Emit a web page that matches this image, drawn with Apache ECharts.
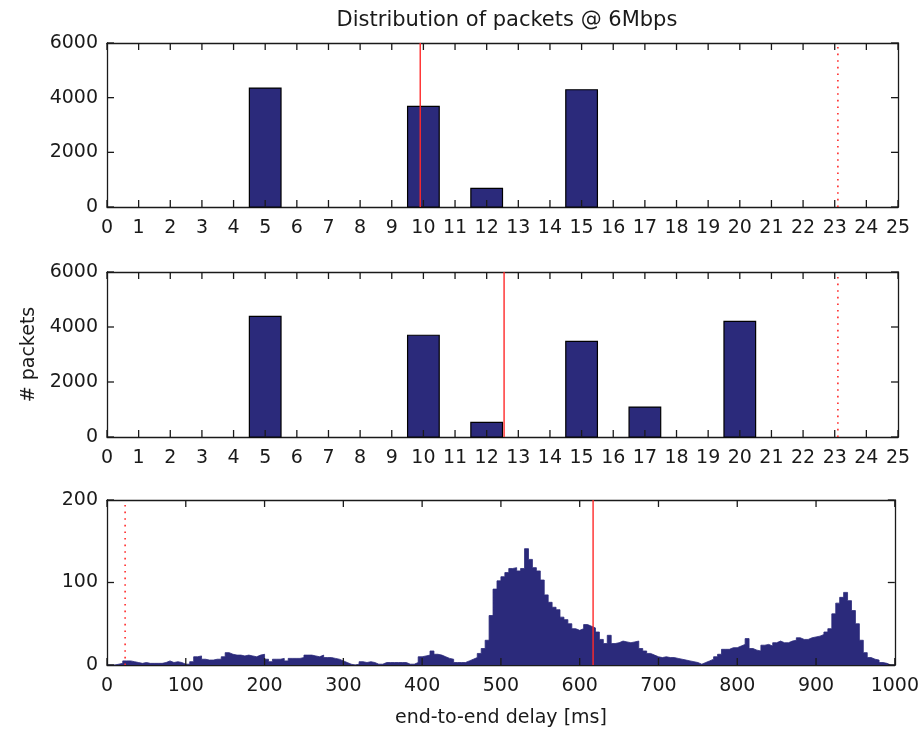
<!DOCTYPE html>
<html>
<head>
<meta charset="utf-8">
<title>Distribution of packets @ 6Mbps</title>
<script src="https://cdn.jsdelivr.net/npm/echarts@6/dist/echarts.min.js"></script>
<style>
  html, body { margin: 0; padding: 0; background: #fff; }
  #chart { width: 922px; height: 733px; }
</style>
</head>
<body>
<div id="chart"></div>
<script>
// ---- data ----
const titleText = 'Distribution of packets @ 6Mbps';
const yName = '# packets';
const xName = 'end-to-end delay [ms]';

// top panel: packets per 1 ms delay bin
const binsTop = [5, 10, 12, 15];
const countsTop = [4350, 3680, 680, 4290];
const meanTop = 9.9;
const limitTop = 23.1;

// middle panel
const binsMid = [5, 10, 12, 15, 17, 20];
const countsMid = [4390, 3700, 535, 3480, 1090, 4205];
const meanMid = 12.55;
const limitMid = 23.1;

// bottom panel: 5 ms bins from 0 to 1000 ms
const binWidth = 5;
const countsBottom = [
  0,0,1,2,5,5,4,3,2,3,2,2,2,2,3,5,3,4,3,1,
  1,4,10,11,7,6,6,7,7,10,15,13,12,12,11,12,11,10,12,13,
  7,4,7,7,8,5,8,8,8,9,12,12,11,10,12,9,9,8,7,5,
  3,1,0,1,4,3,4,3,1,1,3,3,3,3,3,3,1,1,3,10,
  11,12,17,13,12,10,8,7,3,3,3,5,7,9,14,20,30,60,92,102,
  107,112,117,118,114,117,141,128,118,114,103,85,76,70,67,58,55,50,44,42,
  44,49,47,45,40,31,26,36,26,27,29,28,27,28,29,20,17,14,12,10,
  9,10,9,9,8,7,6,5,4,3,1,3,5,7,10,13,19,19,21,21,
  23,25,32,20,18,17,24,25,23,27,29,27,27,29,30,33,31,31,33,34,
  35,37,40,44,62,75,82,88,78,66,50,30,15,9,7,6,3,2,0,0
];
const meanBottom = 617;
const limitBottom = 23;

// axis ranges / ticks
const xTopMax = 25, xTopStep = 1;
const yTopMax = 6000, yTopStep = 2000;
const xBotMax = 1000, xBotStep = 100;
const yBotMax = 200, yBotStep = 100;

// ---- styling ----
const FONT = 'DejaVu Sans';
const INK = '#1a1a1a';
const BAR = '#2b2a7b';
const RED = '#ff2a2a';
const TICK_LEN = 7;
const plain = v => String(v);

const grids = [
  { left: 107, top: 43, width: 791, height: 164 },
  { left: 107, top: 272, width: 791, height: 165 },
  { left: 107, top: 500, width: 792, height: 165 }
];

function axisBase(gridIndex, max, step) {
  return {
    gridIndex, type: 'value', min: 0, max, interval: step,
    axisLine: { show: true, onZero: false, lineStyle: { color: INK, width: 1.3 } },
    axisTick: { show: false },
    splitLine: { show: false }
  };
}

function xAxisPair(gridIndex, max, step, extra) {
  return [
    Object.assign(axisBase(gridIndex, max, step), {
      position: 'bottom',
      axisLabel: { show: true, margin: 12, color: INK, fontSize: 19, fontFamily: FONT, formatter: plain }
    }, extra || {}),
    Object.assign(axisBase(gridIndex, max, step), { position: 'top', axisLabel: { show: false } })
  ];
}

function yAxisPair(gridIndex, max, step, extra) {
  return [
    Object.assign(axisBase(gridIndex, max, step), {
      position: 'left',
      axisLabel: { show: true, margin: 9, color: INK, fontSize: 19, fontFamily: FONT, formatter: plain }
    }, extra || {}),
    Object.assign(axisBase(gridIndex, max, step), { position: 'right', axisLabel: { show: false } })
  ];
}

const xAxes = [
  ...xAxisPair(0, xTopMax, xTopStep),
  ...xAxisPair(1, xTopMax, xTopStep),
  ...xAxisPair(2, xBotMax, xBotStep, {
    name: xName, nameLocation: 'middle', nameGap: 44,
    nameTextStyle: { color: INK, fontSize: 19, fontFamily: FONT }
  })
];
const yAxes = [
  ...yAxisPair(0, yTopMax, yTopStep),
  ...yAxisPair(1, yTopMax, yTopStep, {
    name: yName, nameLocation: 'middle', nameGap: 68, nameRotate: 90,
    nameTextStyle: { color: INK, fontSize: 19, fontFamily: FONT }
  }),
  ...yAxisPair(2, yBotMax, yBotStep)
];

// unit-wide histogram bars centred on each bin
function barSeries(axisIdx, bins, counts) {
  return {
    type: 'custom',
    xAxisIndex: axisIdx, yAxisIndex: axisIdx,
    data: bins.map((b, i) => [b, counts[i]]),
    renderItem: function (params, api) {
      const x = api.value(0), v = api.value(1);
      const p0 = api.coord([x - 0.5, v]);
      const p1 = api.coord([x + 0.5, 0]);
      return {
        type: 'rect',
        shape: { x: p0[0], y: p0[1], width: p1[0] - p0[0], height: p1[1] - p0[1] },
        style: { fill: BAR, stroke: '#000', lineWidth: 1.2 }
      };
    },
    z: 2
  };
}

// MATLAB-style inward ticks on all four sides of a panel
function tickSeries(axisIdx, xMax, xStep, yMax, yStep) {
  const data = [];
  for (let v = 0; v <= xMax; v += xStep) data.push([0, v]);
  for (let v = 0; v <= yMax; v += yStep) data.push([1, v]);
  const tickStyle = { stroke: INK, lineWidth: 1.3 };
  return {
    type: 'custom',
    xAxisIndex: axisIdx, yAxisIndex: axisIdx,
    encode: { x: -1, y: -1 },
    data,
    silent: true,
    renderItem: function (params, api) {
      const kind = api.value(0), v = api.value(1);
      let a, b, lines;
      if (kind === 0) {
        a = api.coord([v, 0]);
        b = api.coord([v, yMax]);
        lines = [
          [a[0], a[1], a[0], a[1] - TICK_LEN],
          [b[0], b[1], b[0], b[1] + TICK_LEN]
        ];
      } else {
        a = api.coord([0, v]);
        b = api.coord([xMax, v]);
        lines = [
          [a[0], a[1], a[0] + TICK_LEN, a[1]],
          [b[0], b[1], b[0] - TICK_LEN, b[1]]
        ];
      }
      return {
        type: 'group',
        children: lines.map(l => ({
          type: 'line',
          shape: { x1: l[0], y1: l[1], x2: l[2], y2: l[3] },
          style: tickStyle
        }))
      };
    },
    z: 6
  };
}

function vLine(axisIdx, x, yMax, dotted) {
  return {
    type: 'line',
    xAxisIndex: axisIdx, yAxisIndex: axisIdx,
    data: [[x, 0], [x, yMax]],
    symbol: 'none', silent: true,
    lineStyle: { color: RED, width: dotted ? 1.6 : 1.4, type: dotted ? [1.6, 5] : 'solid' },
    z: 5
  };
}

const stepData = countsBottom.map((v, i) => [i * binWidth, v]);
stepData.push([countsBottom.length * binWidth, countsBottom[countsBottom.length - 1]]);

const series = [
  barSeries(0, binsTop, countsTop),
  vLine(0, meanTop, yTopMax, false),
  vLine(0, limitTop, yTopMax, true),
  tickSeries(0, xTopMax, xTopStep, yTopMax, yTopStep),
  barSeries(2, binsMid, countsMid),
  vLine(2, meanMid, yTopMax, false),
  vLine(2, limitMid, yTopMax, true),
  tickSeries(2, xTopMax, xTopStep, yTopMax, yTopStep),
  {
    type: 'line',
    xAxisIndex: 4, yAxisIndex: 4,
    data: stepData,
    step: 'end',
    symbol: 'none', silent: true,
    lineStyle: { color: BAR, width: 0.8 },
    areaStyle: { color: BAR, opacity: 1 },
    z: 2
  },
  vLine(4, limitBottom, yBotMax, true),
  vLine(4, meanBottom, yBotMax, false),
  tickSeries(4, xBotMax, xBotStep, yBotMax, yBotStep)
];

const chart = echarts.init(document.getElementById('chart'), null, { renderer: 'canvas' });
chart.setOption({
  animation: false,
  backgroundColor: '#fff',
  title: {
    text: titleText,
    left: 502, top: 5, textAlign: 'center',
    textStyle: { color: INK, fontSize: 21, fontWeight: 'normal', fontFamily: FONT }
  },
  grid: grids,
  xAxis: xAxes,
  yAxis: yAxes,
  series
});
</script>
</body>
</html>
